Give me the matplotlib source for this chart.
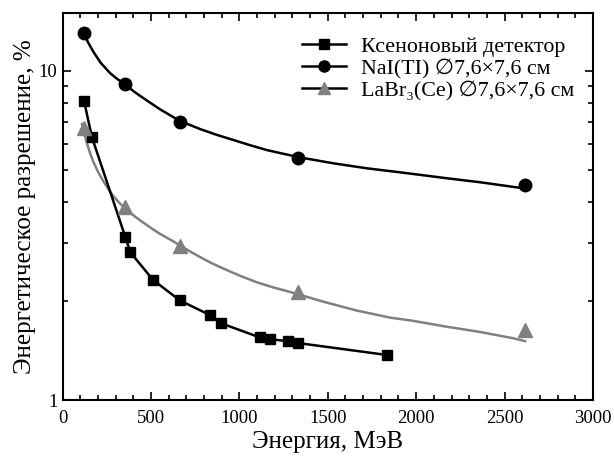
import numpy as np
import matplotlib
matplotlib.use("Agg")
import matplotlib.pyplot as plt
from matplotlib.lines import Line2D
from matplotlib.ticker import MultipleLocator, LogLocator, FixedLocator, FuncFormatter, NullFormatter

plt.rcParams['font.family'] = ['Liberation Serif', 'DejaVu Sans']

# xenon detector (points joined by straight segments)
xe_energy = [122, 166, 356, 384, 511, 662, 835, 898, 1115, 1173, 1275, 1332, 1836]
xe_res = [8.1, 6.3, 3.12, 2.81, 2.32, 2.01, 1.81, 1.71, 1.55, 1.53, 1.51, 1.49, 1.37]

nai_energy = [122, 356, 662, 1332, 2614]
nai_res = [13.0, 9.12, 7.02, 5.42, 4.51]
nai_fit_e = [122, 145, 174, 215, 269, 310, 357, 405, 457, 551, 661, 778, 870, 966, 1060, 1155,
             1250, 1343, 1532, 1721, 1909, 2173, 2361, 2606]
nai_fit_r = [13.0, 12.2, 11.45, 10.6, 9.85, 9.45, 9.08, 8.65, 8.27, 7.65, 7.06, 6.66, 6.4, 6.17,
             5.95, 5.75, 5.6, 5.46, 5.24, 5.06, 4.92, 4.72, 4.59, 4.40]

la_energy = [122, 356, 662, 1332, 2614]
la_res = [6.70, 3.86, 2.93, 2.13, 1.63]
la_fit_e = [110, 122, 137, 155, 174, 200, 231, 260, 287, 320, 363, 410, 457, 505, 551, 610, 665,
            720, 778, 840, 909, 1000, 1098, 1190, 1287, 1380, 1475, 1664, 1852, 1984, 2173, 2361,
            2550, 2616]
la_fit_r = [6.9, 6.5, 6.06, 5.65, 5.3, 4.95, 4.62, 4.37, 4.17, 3.98, 3.78, 3.61, 3.46, 3.32, 3.20,
            3.07, 2.95, 2.83, 2.72, 2.61, 2.51, 2.39, 2.28, 2.20, 2.13, 2.06, 1.99, 1.87, 1.78,
            1.74, 1.67, 1.61, 1.54, 1.51]

grey = '#808080'

fig = plt.figure(figsize=(6.14, 4.58), dpi=100)
ax = fig.add_axes([0.1018, 0.1266, 0.864, 0.8450])

ax.plot(xe_energy, xe_res, color='black', lw=1.8, marker='s', ms=7, zorder=4)
ax.plot(nai_fit_e, nai_fit_r, color='black', lw=1.8, zorder=3)
ax.plot(nai_energy, nai_res, ls='none', color='black', marker='o', ms=9, zorder=4)
ax.plot(la_fit_e, la_fit_r, color=grey, lw=1.8, zorder=3)
ax.plot(la_energy, la_res, ls='none', color=grey, marker='^', ms=9.5, zorder=4)

ax.set_yscale('log')
ax.set_xlim(0, 3000)
ax.set_ylim(1, 15)
ax.xaxis.set_major_locator(MultipleLocator(500))
ax.xaxis.set_minor_locator(MultipleLocator(100))
ax.yaxis.set_major_locator(FixedLocator([1, 10]))
ax.yaxis.set_minor_locator(LogLocator(base=10, subs=np.arange(2, 10)))
ax.yaxis.set_major_formatter(FuncFormatter(lambda v, p: '%g' % v))
ax.yaxis.set_minor_formatter(NullFormatter())

ax.tick_params(which='both', direction='in', top=True, right=True, labelsize=13.5, width=1.2)
ax.tick_params(which='major', length=6)
ax.tick_params(which='minor', length=3.5)
ax.tick_params(axis='x', pad=7)
for s in ax.spines.values():
    s.set_linewidth(1.5)

ax.set_xlabel('Энергия, МэВ', fontsize=18, labelpad=3)
ax.set_ylabel('Энергетическое разрешение, %', fontsize=18, labelpad=2)

handles = [
    Line2D([], [], color='black', lw=1.8, marker='s', ms=7),
    Line2D([], [], color='black', lw=1.8, marker='o', ms=8),
    Line2D([], [], color='black', lw=1.8, marker='^', ms=8.5,
           markerfacecolor=grey, markeredgecolor=grey),
]
labels = ['Ксеноновый детектор', 'NaI(TI) ∅7,6×7,6 см', 'LaBr₃(Ce) ∅7,6×7,6 см']
ax.legend(handles, labels, loc='upper right', bbox_to_anchor=(0.998, 0.985), frameon=False,
          fontsize=15.8, handlelength=2.0, handletextpad=0.7, labelspacing=0.08,
          borderaxespad=0.5, borderpad=0.3)

fig.savefig('out.png', dpi=100)
